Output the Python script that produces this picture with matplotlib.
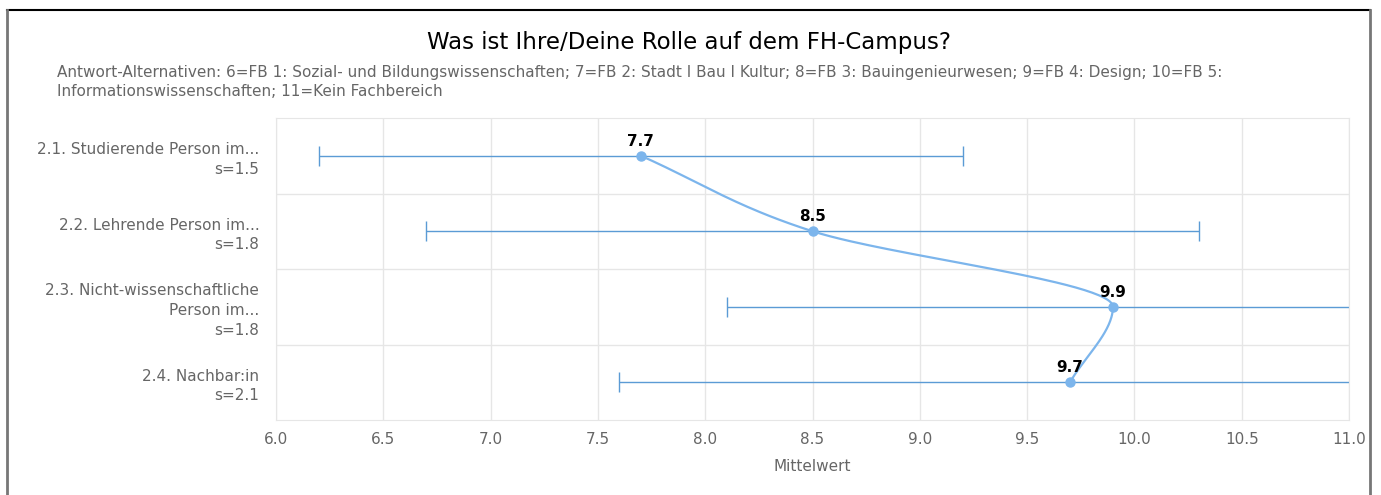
import numpy as np
import matplotlib.pyplot as plt
from matplotlib.lines import Line2D

# Data
categories = ['2.1. Studierende Person im...\ns=1.5',
              '2.2. Lehrende Person im...\ns=1.8',
              '2.3. Nicht-wissenschaftliche\nPerson im...\ns=1.8',
              '2.4. Nachbar:in\ns=2.1']
means = [7.7, 8.5, 9.9, 9.7]
sds = [1.5, 1.8, 1.8, 2.1]

title = 'Was ist Ihre/Deine Rolle auf dem FH-Campus?'
subtitle = ('Antwort-Alternativen: 6=FB 1: Sozial- und Bildungswissenschaften; 7=FB 2: Stadt I Bau I Kultur; '
            '8=FB 3: Bauingenieurwesen; 9=FB 4: Design; 10=FB 5:\nInformationswissenschaften; 11=Kein Fachbereich')

line_color = '#7cb5ec'
err_color = '#5b9bd5'
grid_color = '#e6e6e6'
text_gray = '#666666'

fig = plt.figure(figsize=(13.81, 4.95), dpi=100)
ax = fig.add_axes([276 / 1381, 1 - 420 / 495, (1349 - 276) / 1381, (420 - 118) / 495])

n = len(categories)
ys = np.arange(n)

# error bars
ax.errorbar(means, ys, xerr=sds, fmt='none', ecolor=err_color, elinewidth=1.0,
            capsize=7, capthick=1.0, zorder=2)


# monotone cubic (Fritsch-Carlson) of x as a function of row index
def monotone(yk, xk, steps=60):
    yk = np.asarray(yk, float)
    xk = np.asarray(xk, float)
    h = np.diff(yk)
    d = np.diff(xk) / h
    m = np.zeros(len(xk))
    m[0], m[-1] = d[0], d[-1]
    for i in range(1, len(xk) - 1):
        m[i] = 0 if d[i - 1] * d[i] <= 0 else (d[i - 1] + d[i]) / 2
    for i in range(len(d)):
        if d[i] == 0:
            m[i] = m[i + 1] = 0
            continue
        a, b = m[i] / d[i], m[i + 1] / d[i]
        s = a * a + b * b
        if s > 9:
            t = 3 / np.sqrt(s)
            m[i], m[i + 1] = t * a * d[i], t * b * d[i]
    out_y, out_x = [], []
    for i in range(len(d)):
        t = np.linspace(0, 1, steps)
        h00 = 2 * t ** 3 - 3 * t ** 2 + 1
        h10 = t ** 3 - 2 * t ** 2 + t
        h01 = -2 * t ** 3 + 3 * t ** 2
        h11 = t ** 3 - t ** 2
        out_x.append(h00 * xk[i] + h10 * h[i] * m[i] + h01 * xk[i + 1] + h11 * h[i] * m[i + 1])
        out_y.append(yk[i] + t * h[i])
    return np.concatenate(out_x), np.concatenate(out_y)


cx, cy = monotone(ys, means)
ax.plot(cx, cy, color=line_color, lw=1.6, zorder=3, solid_capstyle='round')
ax.plot(means, ys, 'o', color=line_color, ms=6.5, zorder=4)

for m, y in zip(means, ys):
    ax.annotate(f'{m:.1f}', (m, y), xytext=(0, 5), textcoords='offset points',
                ha='center', va='bottom', fontsize=11, fontweight='bold', color='black', zorder=5)

ax.set_xlim(6.0, 11.0)
ax.set_ylim(n - 0.5, -0.5)
ax.set_xticks(np.arange(6.0, 11.01, 0.5))
ax.set_xticklabels([f'{v:.1f}' for v in np.arange(6.0, 11.01, 0.5)])
ax.set_yticks(ys)
ax.set_yticklabels(categories, fontsize=11, color=text_gray, ha='right', linespacing=1.38)
ax.set_yticks(np.arange(0.5, n - 0.5, 1), minor=True)
ax.tick_params(axis='x', length=0, pad=9, labelsize=11, labelcolor=text_gray)
ax.tick_params(axis='y', which='both', length=0, pad=12)
ax.grid(axis='x', color=grid_color, lw=1)
ax.grid(axis='y', which='minor', color=grid_color, lw=1)
ax.set_axisbelow(True)
for s in ax.spines.values():
    s.set_color(grid_color)
ax.set_xlabel('Mittelwert', fontsize=11, color=text_gray, labelpad=8)

fig.text(689 / 1381, 1 - 43 / 495, title, ha='center', va='center', fontsize=16.5, color='black')
fig.text(57 / 1381, 1 - 82 / 495, subtitle, ha='left', va='center', fontsize=11, color=text_gray,
         linespacing=1.38)

# outer frame
fig.add_artist(Line2D([7 / 1381, 1370 / 1381], [1 - 10 / 495, 1 - 10 / 495], color='black', lw=1.5))
fig.add_artist(Line2D([7 / 1381, 7 / 1381], [0, 1 - 10 / 495], color='#777777', lw=2))
fig.add_artist(Line2D([1370 / 1381, 1370 / 1381], [0, 1 - 10 / 495], color='#777777', lw=2))

fig.savefig('out.png', dpi=100)
